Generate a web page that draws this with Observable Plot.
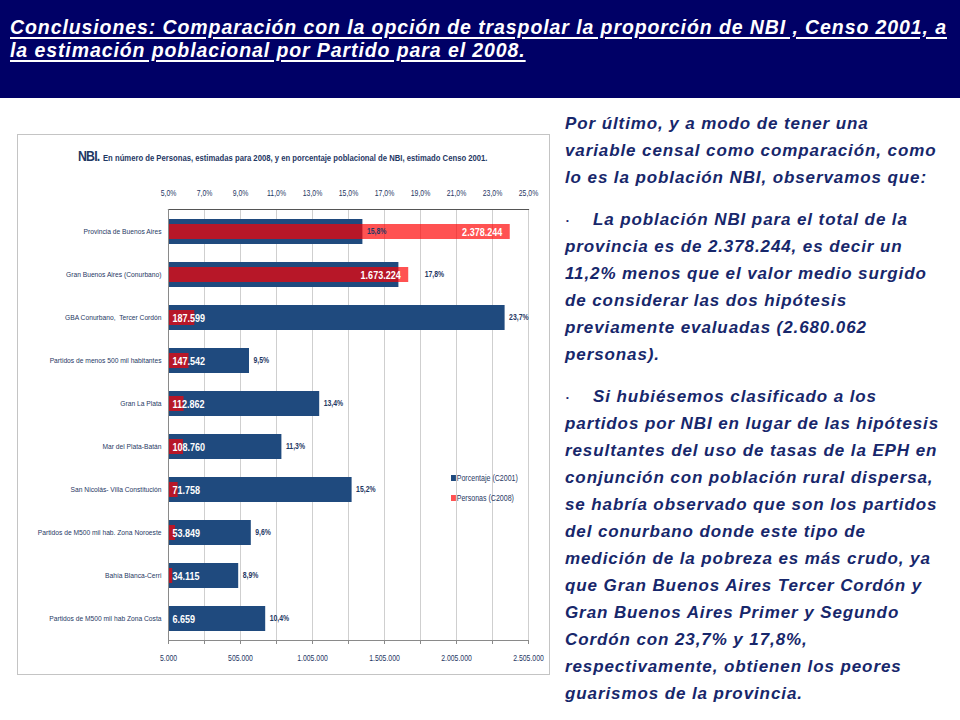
<!DOCTYPE html>
<html><head><meta charset="utf-8">
<script src="https://cdn.jsdelivr.net/npm/d3@7"></script>
<script src="https://cdn.jsdelivr.net/npm/@observablehq/plot@0.6"></script>
<style>
html,body{margin:0;padding:0;}
body{width:960px;height:720px;background:#fff;position:relative;overflow:hidden;}
#hdr{position:absolute;left:0;top:0;width:960px;height:98px;background:#000066;}
.tl{position:absolute;left:10px;color:#fff;font-family:"Liberation Sans",Arial,sans-serif;font-weight:bold;font-style:italic;font-size:19.5px;line-height:22px;text-decoration:underline;text-decoration-thickness:2px;text-underline-offset:3px;white-space:nowrap;}
#box{position:absolute;left:17px;top:134px;width:531px;height:539px;border:1px solid #c4c4c4;box-sizing:content-box;}
#box svg{position:absolute;left:0;top:0;}
#ctitle{position:absolute;left:60px;top:12px;white-space:nowrap;font-family:"Liberation Sans",Arial,sans-serif;color:#1F3864;font-weight:bold;transform:scaleX(0.82);transform-origin:0 0;}
#ctitle .big{font-size:15px;letter-spacing:-1px;}
#ctitle .small{font-size:9.4px;}
#legend{position:absolute;left:433px;top:338px;font-family:"Liberation Sans",Arial,sans-serif;font-size:8.6px;color:#1F3864;line-height:10px;transform:scaleX(0.82);transform-origin:0 0;}
#legend div{margin-bottom:10px;white-space:nowrap;}
#legend span.sw{display:inline-block;width:6px;height:6px;margin-right:1px;vertical-align:0px;}
.rt{position:absolute;font-family:"Liberation Sans",Arial,sans-serif;font-weight:bold;font-style:italic;font-size:17px;letter-spacing:0.9px;line-height:20px;color:#17276B;white-space:nowrap;}
.bul{position:absolute;font-family:"Liberation Sans",Arial,sans-serif;font-size:8px;line-height:10px;color:#17276B;}
</style></head>
<body>
<div id="hdr">
  <div class="tl" id="t1" style="top:15.5px;">Conclusiones: Comparación con la opción de traspolar la proporción de NBI , Censo 2001, a</div>
  <div class="tl" id="t2" style="top:39px;">la estimación poblacional por Partido para el 2008.</div>
</div>
<div id="box">
  <div id="ctitle"><span class="big">NBI.</span> <span class="small">En número de Personas, estimadas para 2008, y en porcentaje poblacional de NBI, estimado Censo 2001.</span></div>
</div>
<div id="right"></div>
<script>
// ---- data ----
const categories = [
  "Provincia de Buenos Aires",
  "Gran Buenos Aires (Conurbano)",
  "GBA Conurbano,  Tercer Cordón",
  "Partidos de menos 500 mil habitantes",
  "Gran La Plata",
  "Mar del Plata-Batán",
  "San Nicolás- Villa Constitución",
  "Partidos de M500 mil hab. Zona Noroeste",
  "Bahía Blanca-Cerri",
  "Partidos de M500 mil hab Zona Costa"
];
const porcentaje = [15.8, 17.8, 23.7, 9.5, 13.4, 11.3, 15.2, 9.6, 8.9, 10.4];
const personas = [2378244, 1673224, 187599, 147542, 112862, 108760, 71758, 53849, 34115, 6659];
const pctTicks = [5, 7, 9, 11, 13, 15, 17, 19, 21, 23, 25];
const personasTicks = [5000, 505000, 1005000, 1505000, 2005000, 2505000];
const gridTicks = [5000, 255000, 505000, 755000, 1005000, 1255000, 1505000, 1755000, 2005000, 2255000, 2505000];
const seriesNames = ["Porcentaje (C2001)", "Personas (C2008)"];

const paragraphs = [
  {bullet:false, lines:["Por último, y a modo de tener una","variable censal como comparación, como","lo es la población NBI, observamos que:"]},
  {bullet:true, lines:["La población NBI  para el total de la","provincia es de 2.378.244, es decir un","11,2% menos que el valor medio surgido","de considerar las dos hipótesis","previamente evaluadas (2.680.062","personas)."]},
  {bullet:true, lines:["Si hubiésemos clasificado a los","partidos por NBI en lugar de las hipótesis","resultantes del uso de tasas de la EPH en","conjunción con población rural dispersa,","se habría observado que son los partidos","del conurbano donde este tipo de","medición de la pobreza es más crudo, ya","que Gran Buenos Aires Tercer Cordón y","Gran Buenos Aires Primer y Segundo","Cordón con 23,7% y 17,8%,","respectivamente, obtienen los peores","guarismos de la provincia."]}
];

const data = categories.map((c, i) => ({cat: c, pct: porcentaje[i], per: personas[i]}));

const BLUE = "#1F4A7E", RED = "#FF0000", TXT = "#1F3864";
const fmtPer = d => d3.format(",")(d).replace(/,/g, ".");
const fmtPct = d => d.toFixed(1).replace(".", ",") + "%";
// persons value expressed on the percent axis (both axes share the plot width)
const perOnPct = v => 5 + (v - 5000) / (2505000 - 5000) * (25 - 5);

const common = {
  width: 531, height: 539,
  marginLeft: 150, marginRight: 21, marginTop: 74, marginBottom: 34,
  style: {fontFamily: "'Liberation Sans',Arial,sans-serif", background: "transparent", overflow: "visible"}
};
const yOpt = {domain: categories, paddingInner: 0.42, paddingOuter: 0.21, label: null};

// layer A: grid, blue bars, top axis (percent scale)
const layerA = Plot.plot({
  ...common,
  x: {domain: [5, 25], label: null},
  y: {...yOpt, axis: null},
  marks: [
    Plot.ruleX(pctTicks, {stroke: "#cfcfcf", strokeWidth: 1}),
    Plot.barX(data, {x1: 5, x2: "pct", y: "cat", fill: BLUE}),
    Plot.frame({anchor: "top", stroke: "#555", strokeWidth: 1.2}),
    Plot.axisX(pctTicks, {anchor: "top", label: null, tickSize: 0, tickPadding: 14, tickFormat: fmtPct, fill: TXT, fontSize: 8.4})
  ]
});

// layer B: red bars, bottom axis (persons scale)
const layerB = Plot.plot({
  ...common,
  x: {domain: [5000, 2505000], label: null},
  y: {...yOpt, axis: null},
  marks: [
    Plot.barX(data, {x1: 5000, x2: "per", y: "cat", fill: RED, fillOpacity: 0.68, insetTop: 5, insetBottom: 5}),
    Plot.frame({anchor: "bottom", stroke: "#8a8a8a"}),
    Plot.frame({anchor: "left", stroke: "#8a8a8a"}),
    Plot.axisX(gridTicks, {anchor: "bottom", label: null, tickSize: 4, stroke: "#8a8a8a", tickFormat: () => ""}),
    Plot.axisX(personasTicks, {anchor: "bottom", label: null, tickSize: 0, tickPadding: 15, tickFormat: fmtPer, fill: TXT, fontSize: 8.4}),
    Plot.text(data.filter(d => d.per > 1000000), {x: "per", y: "cat", text: d => fmtPer(d.per), textAnchor: "end", dx: -8, fill: "white", fontWeight: "bold", fontSize: 11}),
    Plot.text(data.filter(d => d.per <= 1000000), {x: 5000, y: "cat", text: d => fmtPer(d.per), textAnchor: "start", dx: 4, fill: "white", fontWeight: "bold", fontSize: 11})
  ]
});

// percent labels: normally just past the blue bar; pushed past the red bar when that ends just beyond it
const nearRed = d => perOnPct(d.per) > d.pct && perOnPct(d.per) - d.pct < 3;

// layer C: percent labels, category axis
const layerC = Plot.plot({
  ...common,
  x: {domain: [5, 25], axis: null, label: null},
  y: yOpt,
  marks: [
    Plot.axisY({label: null, tickSize: 0, tickPadding: 7, fontSize: 7.2, fill: TXT}),
    Plot.text(data.filter(d => !nearRed(d)), {x: "pct", y: "cat", text: d => fmtPct(d.pct), textAnchor: "start", dx: 4, fill: TXT, fontWeight: "bold", fontSize: 8.4}),
    Plot.text(data.filter(nearRed), {x: d => perOnPct(d.per), y: "cat", text: d => fmtPct(d.pct), textAnchor: "start", dx: 16, fill: TXT, fontWeight: "bold", fontSize: 8.4})
  ]
});

const box = document.getElementById("box");
box.append(layerA, layerB, layerC);

// emulate the condensed (Calibri-like) face of the original chart
const yLabels = new Set(layerC.querySelectorAll('g[aria-label="y-axis tick label"] text'));
box.querySelectorAll("svg text").forEach(el => {
  const L = el.getComputedTextLength();
  if (L > 0) {
    const f = yLabels.has(el) ? 0.93 : 0.82;
    el.setAttribute("textLength", (L * f).toFixed(2));
    el.setAttribute("lengthAdjust", "spacingAndGlyphs");
  }
});

// legend
const leg = document.createElement("div");
leg.id = "legend";
[[BLUE, 1, seriesNames[0]], [RED, 0.68, seriesNames[1]]].forEach(([c, o, t]) => {
  const row = document.createElement("div");
  const sw = document.createElement("span");
  sw.className = "sw"; sw.style.background = c; sw.style.opacity = o;
  row.append(sw, document.createTextNode(t));
  leg.append(row);
});
box.append(leg);

// right text
const right = document.getElementById("right");
let y = 124;
paragraphs.forEach((p, pi) => {
  if (pi > 0) y += 15;
  p.lines.forEach((ln, li) => {
    const d = document.createElement("div");
    d.className = "rt";
    const x = (p.bullet && li === 0) ? 593 : 565;
    d.style.left = x + "px";
    d.style.top = (y - 10) + "px";
    d.textContent = ln;
    right.append(d);
    if (p.bullet && li === 0) {
      const b = document.createElement("div");
      b.className = "bul";
      b.style.left = "566px"; b.style.top = (y - 4) + "px";
      b.textContent = "•";
      right.append(b);
    }
    y += 27;
  });
});

// title: adjust letter spacing so line 1 spans the slide like the original
const t1 = document.getElementById("t1"), t2 = document.getElementById("t2");
const w = t1.getBoundingClientRect().width;
const ls = (937 - w) / t1.textContent.length;
t1.style.letterSpacing = ls + "px"; t2.style.letterSpacing = ls + "px";
</script>
</body></html>
